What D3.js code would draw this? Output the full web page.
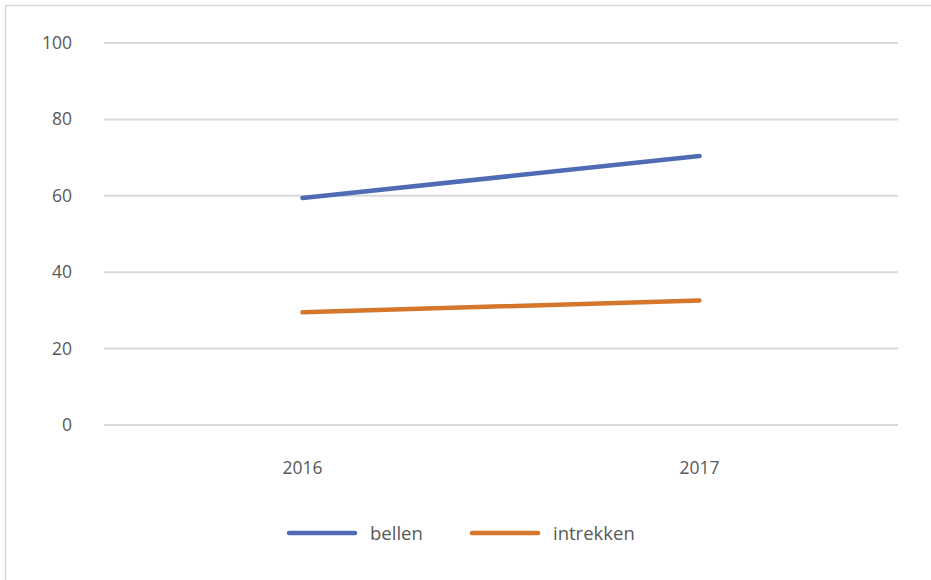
<!DOCTYPE html>
<html lang="nl">
<head>
    <meta charset="UTF-8">
    <title>bellen / intrekken</title>
    <script src="https://d3js.org/d3.v7.min.js"></script>
    <style>
        body, html {
            margin: 0;
            padding: 0;
            background: #fff;
            font-family: "Open Sans", "Noto Sans", Arial, sans-serif;
        }
        #chart text {
            fill: #595959;
        }
    </style>
</head>
<body>
<div id="chart"></div>
<script>
    // chart data
    const years = ["2016", "2017"];
    const bellen = [59.4, 70.4];
    const intrekken = [29.5, 32.6];
    const yTicks = [0, 20, 40, 60, 80, 100];
    const seriesNames = ["bellen", "intrekken"];
    const seriesColors = ["#4f6bb3", "#d5762b"];

    const width = 931, height = 580;
    const plotLeft = 104, plotRight = 898, plotTop = 43, plotBottom = 425;

    const svg = d3.select("#chart").append("svg")
        .attr("width", width)
        .attr("height", height);

    // outer frame
    svg.append("rect")
        .attr("x", 5.5).attr("y", 5.5)
        .attr("width", 940).attr("height", 590)
        .attr("fill", "none")
        .attr("stroke", "#d9d9d9")
        .attr("stroke-width", 1.5);

    const x = d3.scaleBand().domain(years).range([plotLeft, plotRight]);
    const y = d3.scaleLinear().domain([0, 100]).range([plotBottom, plotTop]);

    // gridlines
    svg.append("g")
        .selectAll("line")
        .data(yTicks)
        .enter().append("line")
        .attr("x1", plotLeft).attr("x2", plotRight)
        .attr("y1", d => y(d)).attr("y2", d => y(d))
        .attr("stroke", "#d9d9d9")
        .attr("stroke-width", 2);

    // y labels
    svg.append("g")
        .selectAll("text")
        .data(yTicks)
        .enter().append("text")
        .attr("x", 72)
        .attr("y", d => y(d) + 6)
        .attr("text-anchor", "end")
        .style("font-size", "17.5px")
        .text(d => d);

    // x labels
    svg.append("g")
        .selectAll("text")
        .data(years)
        .enter().append("text")
        .attr("x", d => x(d) + x.bandwidth() / 2)
        .attr("y", 474)
        .attr("text-anchor", "middle")
        .style("font-size", "17.5px")
        .text(d => d);

    const line = d3.line()
        .x((d, i) => x(years[i]) + x.bandwidth() / 2)
        .y(d => y(d));

    [bellen, intrekken].forEach((s, i) => {
        svg.append("path")
            .datum(s)
            .attr("d", line)
            .attr("fill", "none")
            .attr("stroke", seriesColors[i])
            .attr("stroke-width", 4.5)
            .attr("stroke-linecap", "round");
    });

    // legend
    const legendX = [289, 472];
    const lg = svg.append("g")
        .selectAll("g")
        .data(seriesNames)
        .enter().append("g")
        .attr("transform", (d, i) => `translate(${legendX[i]},533)`);
    lg.append("line")
        .attr("x1", 0).attr("x2", 66)
        .attr("stroke", (d, i) => seriesColors[i])
        .attr("stroke-width", 4.5)
        .attr("stroke-linecap", "round");
    lg.append("text")
        .attr("x", 81)
        .attr("y", 7)
        .style("font-size", "18.5px")
        .text(d => d);
</script>
</body>
</html>
